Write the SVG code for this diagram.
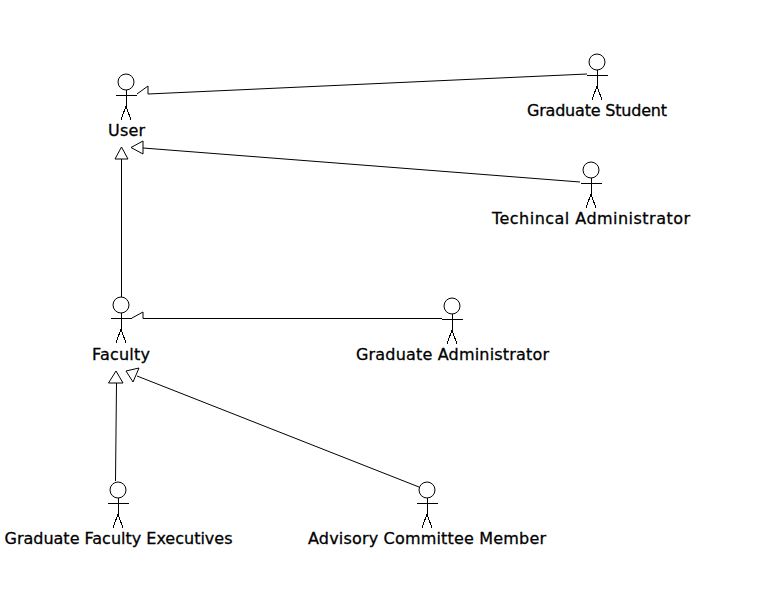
<svg xmlns="http://www.w3.org/2000/svg" width="783" height="599" viewBox="0 0 783 599">
<defs>
<style>
.s{fill:none;stroke:#000;stroke-width:1;shape-rendering:crispEdges}
.h{fill:none;stroke:#000;stroke-width:1}
text{font-family:"DejaVu Sans",sans-serif;font-size:16px;fill:#000;stroke:#000;stroke-width:.3;text-anchor:middle}
</style>
<g id="stick"><circle class="h" cx="0" cy="0" r="8"/><path class="s" d="M0 8V24L-5 38M0 24L5 38M-10 13H11"/></g>
</defs>
<rect width="783" height="599" fill="#fff"/>
<g id="connectors">
<path class="h" d="M148 94L587 74M137 94L148 86V94"/>
<path class="h" d="M121.500 297V159M121.500 147L115 159H128Z"/>
<path class="h" d="M580 182L143 148M131 147.500L143 141V154Z"/>
<path class="h" d="M143 318.500H442M132 318L143 312V318.500"/>
<path class="h" d="M115.500 481L116.500 383M116 371L108.500 383H123Z"/>
<path class="h" d="M419 487L137 376M126 371L139 368L133 382Z"/>
</g>
<g id="user"><use href="#stick" x="126" y="82"/><text x="126.500" y="136" textLength="37">User</text></g>
<g id="graduate-student"><use href="#stick" x="597" y="62"/><text x="597" y="116" textLength="140">Graduate Student</text></g>
<g id="technical-administrator"><use href="#stick" x="591" y="170"/><text x="591" y="224" textLength="198">Techincal Administrator</text></g>
<g id="faculty"><use href="#stick" x="121" y="305"/><text x="121" y="360" textLength="58">Faculty</text></g>
<g id="graduate-administrator"><use href="#stick" x="452" y="306"/><text x="452.500" y="360" textLength="193">Graduate Administrator</text></g>
<g id="graduate-faculty-executives"><use href="#stick" x="118" y="490"/><text x="118.500" y="544" textLength="228">Graduate Faculty Executives</text></g>
<g id="advisory-committee-member"><use href="#stick" x="427" y="490"/><text x="427" y="544" textLength="238">Advisory Committee Member</text></g>
</svg>
